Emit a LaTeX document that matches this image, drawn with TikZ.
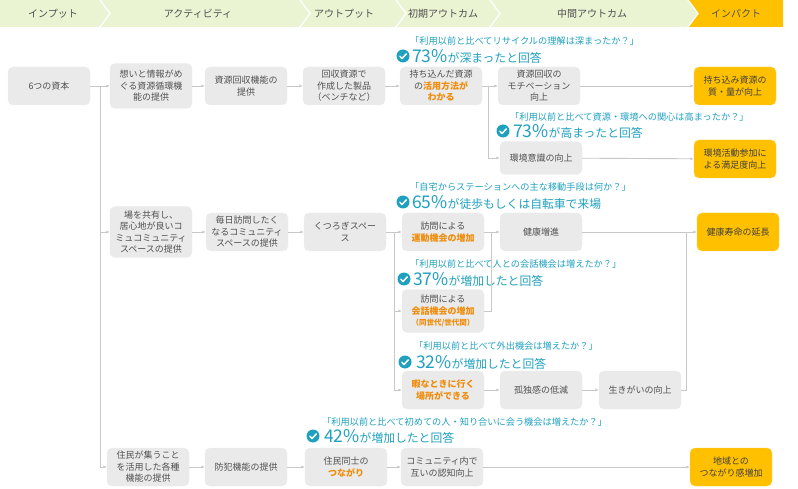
\documentclass[tikz,border=0pt]{standalone}
\usepackage{fontspec}
\setmainfont{Noto Sans CJK JP}
\usetikzlibrary{arrows.meta, positioning, calc}
\definecolor{myGray}{RGB}{234, 234, 234}
\definecolor{myText}{RGB}{80, 80, 80}
\definecolor{myOrange}{RGB}{240, 140, 10}
\definecolor{myGold}{RGB}{255, 192, 0}
\definecolor{myTeal}{RGB}{30, 160, 190}
\definecolor{myGreen}{RGB}{234, 243, 210}
\definecolor{myLine}{RGB}{200, 200, 200}
\newcommand{\hl}[1]{\textcolor{myOrange}{\bfseries #1}}
\newcommand{\pct}[1]{{\fontsize{17.5}{17}\selectfont #1}}

\begin{document}
\begin{tikzpicture}[
            x=1pt, y=-1pt,
            font=\fontsize{9}{11.5}\selectfont,
            >={Latex[length=3.5pt, width=3pt]},
            % Styles
            box/.style={
                draw=white!93!black, fill=myGray, text=myText, rounded corners=5pt,
                align=center, minimum width=82pt, minimum height=38pt, inner sep=1pt
            },
            goal/.style={box, fill=myGold, draw=myGold!70!white, text=black!75},
            conn/.style={->, draw=myLine, line width=0.9pt},
            link/.style={draw=myLine, line width=0.9pt},
            ask/.style={anchor=west, inner sep=0pt, text=myTeal, font=\fontsize{9.2}{10}\selectfont},
            rate/.style={anchor=west, inner sep=0pt, text=myTeal, font=\fontsize{11.8}{12}\selectfont},
            tick/.style={
                circle, fill=myTeal, minimum size=13pt, inner sep=0pt,
                path picture={\draw[white, line width=1.5pt, line cap=round, line join=round]
                    ($(path picture bounding box.center)+(-3.2,0.2)$) -- ++(2.2,2.3) -- ++(4.3,-4.6);}
            },
            phase/.style={text=myText, font=\fontsize{10}{12}\selectfont}
        ]
            \useasboundingbox (0,0) rectangle (798,489);

            % --- Header ---
            \fill[myGreen] (0,0) -- (99,0) -- (109,13.5) -- (99,27) -- (0,27) -- cycle;
            \fill[myGreen] (101,0) -- (299,0) -- (309,13.5) -- (299,27) -- (101,27) -- (111,13.5) -- cycle;
            \fill[myGreen] (301,0) -- (395,0) -- (405,13.5) -- (395,27) -- (301,27) -- (311,13.5) -- cycle;
            \fill[myGreen] (397,0) -- (489,0) -- (499,13.5) -- (489,27) -- (397,27) -- (407,13.5) -- cycle;
            \fill[myGreen] (491,0) -- (687,0) -- (697,13.5) -- (687,27) -- (491,27) -- (501,13.5) -- cycle;
            \fill[myGold] (689,0) -- (783,0) -- (783,27) -- (689,27) -- (699,13.5) -- cycle;

            \node[phase] (h1) at (53,13.5) {インプット};
            \node[phase] (h2) at (198,13.5) {アクティビティ};
            \node[phase] (h3) at (344,13.5) {アウトプット};
            \node[phase] (h4) at (443,13.5) {初期アウトカム};
            \node[phase] (h5) at (592,13.5) {中間アウトカム};
            \node[phase] (h6) at (736,13.5) {インパクト};

            % --- Nodes ---

            % 1. Resources row
            \node[box] (cap) at (49,86) {6つの資本};
            \node[box, minimum height=45pt] (act1) at (151,86) {想いと情報がめ\\ぐる資源循環機\\能の提供};
            \node[box] (act2) at (246,86) {資源回収機能の\\提供};
            \node[box] (out1) at (344,86) {回収資源で\\作成した製品\\（ベンチなど）};
            \node[box] (init1) at (441,86) {持ち込んだ資源\\の\hl{活用方法が}\\\hl{わかる}};
            \node[box] (mid1) at (539,86) {資源回収の\\モチベーション\\向上};
            \node[goal] (imp1) at (735,86) {持ち込み資源の\\質・量が向上};
            \node[box, minimum height=33pt] (mid2) at (541,158) {環境意識の向上};
            \node[goal] (imp2) at (735,159) {環境活動参加に\\よる満足度向上};

            % 2. Community space row
            \node[box, minimum height=51pt] (act3) at (151,232) {場を共有し、\\居心地が良いコ\\ミュコミュニティ\\スペースの提供};
            \node[box] (act4) at (247,232) {毎日訪問したく\\なるコミュニティ\\スペースの提供};
            \node[box] (out2) at (345,232) {くつろぎスペー\\ス};
            \node[box] (init2) at (443,232) {訪問による\\\hl{運動機会の増加}};
            \node[box] (mid3) at (541,232) {健康増進};
            \node[goal] (imp3) at (738,232) {健康寿命の延長};
            \node[box, minimum height=43pt] (init3) at (443,311) {訪問による\\\hl{会話機会の増加}\\{\fontsize{7.5}{9}\selectfont\hl{（同世代/世代間）}}};
            \node[box] (init4) at (443,390) {\hl{暇なときに行く}\\\hl{場所ができる}};
            \node[box] (mid4) at (541,390) {孤独感の低減};
            \node[box] (mid5) at (640,390) {生きがいの向上};

            % 3. Residents row
            \node[box] (act5) at (148,467) {住民が集うこと\\を活用した各種\\機能の提供};
            \node[box] (act6) at (246,467) {防犯機能の提供};
            \node[box] (out3) at (346,467) {住民同士の\\\hl{つながり}};
            \node[box] (init5) at (442,467) {コミュニティ内で\\互いの認知向上};
            \node[goal] (imp4) at (731,467) {地域との\\つながり感増加};

            % --- Survey results ---
            \node[ask] (q1) at (410,41) {「利用以前と比べてリサイクルの理解は深まったか？」};
            \node[tick] (t1) at (403,56) {};
            \node[rate] (p1) at (412,56) {\pct{73\%}が深まったと回答};

            \node[ask] (q2) at (510,117) {「利用以前と比べて資源・環境への関心は高まったか？」};
            \node[tick] (t2) at (503,131) {};
            \node[rate] (p2) at (513,131) {\pct{73\%}が高まったと回答};

            \node[ask] (q3) at (410,187) {「自宅からステーションへの主な移動手段は何か？」};
            \node[tick] (t3) at (403,202) {};
            \node[rate] (p3) at (412,202) {\pct{65\%}が徒歩もしくは自転車で来場};

            \node[ask] (q4) at (410,264) {「利用以前と比べて人との会話機会は増えたか？」};
            \node[tick] (t4) at (404,279) {};
            \node[rate] (p4) at (413,279) {\pct{37\%}が増加したと回答};

            \node[ask] (q5) at (414,346) {「利用以前と比べて外出機会は増えたか？」};
            \node[tick] (t5) at (405,362) {};
            \node[rate] (p5) at (416,362) {\pct{32\%}が増加したと回答};

            \node[ask] (q6) at (322,422) {「利用以前と比べて初めての人・知り合いに会う機会は増えたか？」};
            \node[tick] (t6) at (313,436) {};
            \node[rate] (p6) at (324,436) {\pct{42\%}が増加したと回答};

            % --- Arrows ---
            \coordinate (s0) at ($(cap.east)!0.5!(act1.west)$);
            \coordinate (s1) at ($(init1.east)!0.4!(mid1.west)$);
            \coordinate (s2) at ($(out2.east)!0.5!(init2.west)$);
            \coordinate (s3) at ($(init2.east)!0.45!(mid3.west)$);
            \coordinate (s4) at ($(imp3.west)+(-10,0)$);

            \draw[conn] (cap) -- (act1);
            \draw[conn] (s0) |- (act3);
            \draw[conn] (s0) |- (act5);

            \draw[conn] (act1) -- (act2);
            \draw[conn] (act2) -- (out1);
            \draw[conn] (out1) -- (init1);
            \draw[conn] (init1) -- (mid1);
            \draw[conn] (mid1) -- (imp1);
            \draw[conn] (s1) |- (mid2);
            \draw[conn] (mid2) -- (imp2);

            \draw[conn] (act3) -- (act4);
            \draw[conn] (act4) -- (out2);
            \draw[conn] (out2) -- (init2);
            \draw[conn] (s2) |- (init3);
            \draw[conn] (s2) |- (init4);
            \draw[conn] (init2) -- (mid3);
            \draw[link] (init3.east) -| (s3);
            \draw[conn] (mid3) -- (imp3);
            \draw[conn] (init4) -- (mid4);
            \draw[conn] (mid4) -- (mid5);
            \draw[link] (mid5.east) -| (s4);

            \draw[conn] (act5) -- (act6);
            \draw[conn] (act6) -- (out3);
            \draw[conn] (out3) -- (init5);
            \draw[conn] (init5) -- (imp4);

        \end{tikzpicture}
\end{document}
